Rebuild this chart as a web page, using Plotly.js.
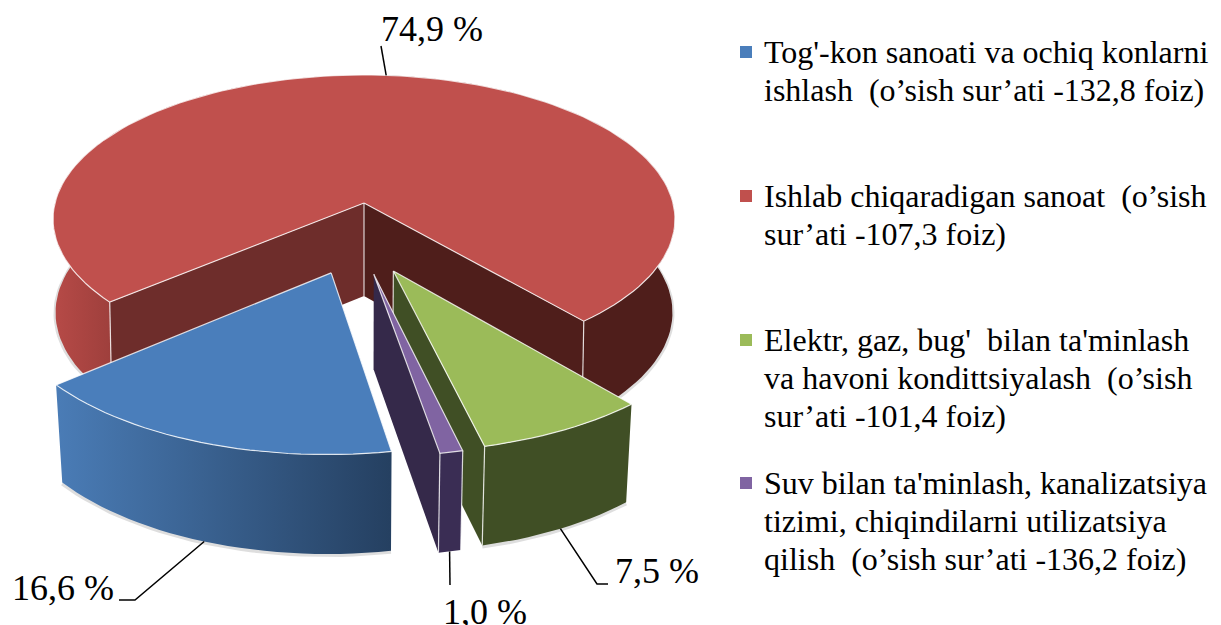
<!DOCTYPE html>
<html><head><meta charset="utf-8">
<script src="https://cdn.plot.ly/plotly-3.0.1.min.js"></script>
<style>html,body{margin:0;padding:0;background:#fff}</style></head>
<body><div id="chart" style="width:1221px;height:625px"></div>
<script>
// ---- data ----
const categories = [
  ["Tog'-kon sanoati va ochiq konlarni", "ishlash \u00A0(o’sish sur’ati -132,8 foiz)"],
  ["Ishlab chiqaradigan sanoat \u00A0(o’sish", "sur’ati -107,3 foiz)"],
  ["Elektr, gaz, bug' \u00A0bilan ta'minlash", "va havoni kondittsiyalash \u00A0(o’sish", "sur’ati -101,4 foiz)"],
  ["Suv bilan ta'minlash, kanalizatsiya", "tizimi, chiqindilarni utilizatsiya", "qilish \u00A0(o’sish sur’ati -136,2 foiz)"]];
const values = [16.6, 74.9, 7.5, 1.0];
const valueLabels = ["16,6 %", "74,9 %", "7,5 %", "1,0 %"];
const topColors = ["#4A7EBB", "#C0504D", "#9BBB59", "#8064A2"];
const wallColors = ["#254061", "#4F1E1B", "#404F25", "#35294A"];

// ---- pseudo-3D pie projection (all geometry derives from values) ----
const cx = 364, cy = 203, A = 309, B = 142.4, P = 0.112, H = 93, RED_R = 1.0, OUT_R = 1.01, EXPLODE = 0.24, FIRST = 170;
const rad = d => d * Math.PI / 180;
const total = values.reduce((s, v) => s + v, 0);
let acc = FIRST;
const slices = values.map((v, i) => { const s = acc; acc += v / total * 360; return {start: s, end: acc, mid: (s + acc) / 2, R: i === 1 ? RED_R : OUT_R, narrow: i === 1 ? 0.992 : 0.98}; });
const red = slices[1];
slices.forEach(s => {
  s.ou = EXPLODE * (Math.sin(rad(s.mid)) - Math.sin(rad(red.mid)));
  s.ov = EXPLODE * (Math.cos(rad(s.mid)) - Math.cos(rad(red.mid)));
});
function proj(u, v, bottom, narrow) {
  const w = 1 + P * v;
  let x = cx + A * u / w, y = cy - B * v / w;
  if (bottom) { x = cx + (x - cx) * narrow; y += H * (1 + 0.35 * (1 / w - 1)); }
  return [x, y];
}
const rim = (s, deg, bottom) => proj(s.ou + s.R * Math.sin(rad(deg)), s.ov + s.R * Math.cos(rad(deg)), bottom, s.narrow);
const apex = (s, bottom) => proj(s.ou, s.ov, bottom, s.narrow);
function arc(s, a0, a1, bottom) {
  const n = Math.max(4, Math.ceil(Math.abs(a1 - a0) / 2)), pts = [];
  for (let i = 0; i <= n; i++) pts.push(rim(s, a0 + (a1 - a0) * i / n, bottom));
  return pts;
}
const traces = [];
function poly(pts, color, grad) {
  const t = {type: 'scatter', mode: 'lines', x: pts.map(p => p[0]).concat(pts[0][0]), y: pts.map(p => p[1]).concat(pts[0][1]),
    fill: 'toself', fillcolor: color, line: {width: 0, color: color}, hoverinfo: 'skip', showlegend: false};
  if (grad) t.fillgradient = {type: 'horizontal', start: grad[0], stop: grad[1], colorscale: [[0, grad[2]], [1, grad[3]]]};
  traces.push(t);
}
function edge(segs) {
  const x = [], y = [];
  segs.forEach(seg => { seg.forEach(p => { x.push(p[0]); y.push(p[1]); }); x.push(null); y.push(null); });
  traces.push({type: 'scatter', mode: 'lines', x, y, line: {width: 1.2, color: 'rgba(255,255,255,0.8)'}, hoverinfo: 'skip', showlegend: false});
}
function wall(s, a0, a1, color, grad) {
  poly(arc(s, a0, a1, false).concat(arc(s, a1, a0, true)), color, grad);
}
function radial(s, deg, color) {
  poly([apex(s, false), rim(s, deg, false), rim(s, deg, true), apex(s, true)], color);
}
function topFace(s) {
  poly([apex(s, false)].concat(arc(s, s.start, s.end, false)), topColors[slices.indexOf(s)]);
}
function outline(s, verticals) {
  const segs = [[apex(s, false)].concat(arc(s, s.start, s.end, false)).concat([apex(s, false)])];
  verticals.forEach(d => segs.push(d === 'apex' ? [apex(s, false), apex(s, true)] : [rim(s, d, false), rim(s, d, true)]));
  edge(segs);
}
// soft contact shadow under each outer wall
function shadow(s, a0, a1) {
  const pts = arc(s, a0, a1, true);
  traces.push({type: 'scatter', mode: 'lines', x: pts.map(p => p[0]), y: pts.map(p => p[1] + 1),
    line: {width: 4, color: 'rgba(90,90,90,0.2)'}, hoverinfo: 'skip', showlegend: false});
}
// red (back) slice
const [blue, redS, green, purple] = slices;
shadow(redS, redS.start, 290); shadow(redS, 430, redS.end);
wall(redS, redS.start, 360, '#A8423F', [50, 112, '#B84B48', '#9E3F3C']);
wall(redS, 360, redS.end, wallColors[1]);
radial(redS, redS.start, '#6E2D2B');
radial(redS, redS.end, wallColors[1]);
topFace(redS); outline(redS, [redS.start, redS.end, 'apex']);
// green
shadow(green, green.start, green.end);
wall(green, green.start, green.end, wallColors[2]);
radial(green, green.end, wallColors[2]);
topFace(green); outline(green, [green.end, 'apex']);
// purple
wall(purple, purple.start, purple.end, '#3A2D54');
radial(purple, purple.end, wallColors[3]);
topFace(purple); outline(purple, [purple.end, purple.start]);
// blue
shadow(blue, blue.start, blue.end);
wall(blue, blue.start, blue.end, wallColors[0], [57, 390, '#4A7CB6', '#254061']);
topFace(blue); outline(blue, []);

// legend swatches
const legendY = [52, 196, 340, 483];
const LINE_GAP = 38;
traces.push({type: 'scatter', mode: 'markers', x: legendY.map(() => 746), y: legendY,
  marker: {symbol: 'square', size: 12, color: topColors}, hoverinfo: 'skip', showlegend: false});

const font = {family: '"Liberation Serif", "Times New Roman", serif', color: '#000'};
const annotations = [];
categories.forEach((lines, i) => lines.forEach((c, j) => annotations.push({x: 763, y: legendY[i] + j * LINE_GAP, xref: 'x', yref: 'y', xanchor: 'left', yanchor: 'middle',
  align: 'left', text: c, showarrow: false, borderpad: 0, font: {...font, size: 32}})));
const labelPos = [[63, 588], [432, 29], [657, 571], [485, 612]];
valueLabels.forEach((t, i) => annotations.push({x: labelPos[i][0], y: labelPos[i][1], xref: 'x', yref: 'y', text: t, showarrow: false,
  borderpad: 0, font: {...font, size: 36}}));
// leader lines from slice rims to their labels
const segLine = pts => ({type: 'path', xref: 'x', yref: 'y', line: {color: '#000', width: 1.5},
  path: 'M' + pts.map(p => p[0].toFixed(1) + ',' + p[1].toFixed(1)).join('L')});
const shapes = [
  segLine([rim(blue, blue.mid, true), [135, 600], [119, 600]]),
  segLine([rim(redS, redS.mid, false), [381, 46]]),
  segLine([rim(green, green.mid, true), [597, 584], [608, 584]]),
  segLine([rim(purple, purple.mid, true), [450, 585]])
];
Plotly.newPlot('chart', traces, {
  width: 1221, height: 625, margin: {l: 0, r: 0, t: 0, b: 0}, paper_bgcolor: '#fff', plot_bgcolor: '#fff',
  xaxis: {range: [0, 1221], visible: false, fixedrange: true},
  yaxis: {range: [625, 0], visible: false, fixedrange: true},
  annotations, shapes, showlegend: false
}, {displayModeBar: false, staticPlot: true});
</script></body></html>
